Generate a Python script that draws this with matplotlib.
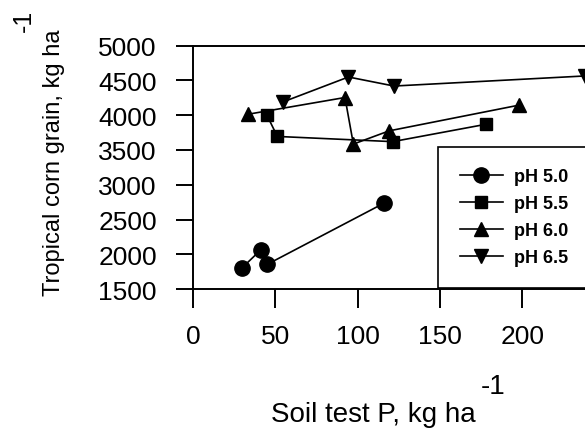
import matplotlib.pyplot as plt

plt.rcParams['font.family'] = ['Liberation Sans', 'DejaVu Sans']

# 토양 P 검정값 (kg/ha) 과 옥수수 수량 (kg/ha)
ph50_p = [29.6, 41.0, 45.1, 116.0]
ph50_yield = [1800, 2060, 1855, 2735]

ph55_p = [44.8, 51.2, 121.3, 178.0]
ph55_yield = [4005, 3695, 3620, 3870]

ph60_p = [33.6, 92.3, 97.4, 119.1, 198.0]
ph60_yield = [4015, 4255, 3585, 3775, 4145]

ph65_p = [54.5, 94.4, 122.1, 238.0]
ph65_yield = [4190, 4550, 4420, 4565]

series = [
    ("pH 5.0", ph50_p, ph50_yield, 'o', 11),
    ("pH 5.5", ph55_p, ph55_yield, 's', 9),
    ("pH 6.0", ph60_p, ph60_yield, '^', 10.5),
    ("pH 6.5", ph65_p, ph65_yield, 'v', 10.5),
]

fig = plt.figure(figsize=(5.85, 4.35), dpi=100)
# 오른쪽은 원본처럼 그림 밖으로 잘리게 둠
ax = fig.add_axes([0.330, 0.3333, 0.7034, 0.5593])

for label, xs, ys, marker, ms in series:
    ax.plot(xs, ys, color='black', lw=1.2, marker=marker, markersize=ms,
            markerfacecolor='black', markeredgecolor='black', label=label)

ax.set_xlim(0, 250)
ax.set_ylim(1500, 5000)
ax.set_xticks([0, 50, 100, 150, 200])
ax.set_yticks(range(1500, 5001, 500))

for side in ['left', 'top', 'bottom']:
    ax.spines[side].set_linewidth(1.4)
ax.spines['right'].set_visible(False)

ax.tick_params(axis='both', direction='out', width=1.4, labelsize=19)
ax.tick_params(axis='y', length=12, pad=14)
ax.tick_params(axis='x', length=14, pad=11)

# 축 제목 (단위 지수는 따로)
fig.text(0.093, 0.627, 'Tropical corn grain, kg ha', rotation=90,
         ha='center', va='center', fontsize=17)
fig.text(0.041, 0.952, '-1', rotation=90, ha='center', va='center', fontsize=18)
fig.text(0.638, 0.046, 'Soil test P, kg ha', ha='center', va='center', fontsize=20)
fig.text(0.843, 0.110, '-1', ha='center', va='center', fontsize=20)

leg = ax.legend(loc='upper left', mode='expand',
                bbox_to_anchor=(438 / 585, 1 - 152 / 435, 200 / 585, 0.01),
                bbox_transform=fig.transFigure, borderaxespad=0,
                prop={'weight': 'bold', 'size': 13}, fancybox=False,
                framealpha=1, edgecolor='black', borderpad=1.2,
                labelspacing=0.55, handlelength=2.4, handletextpad=0.6)
leg.get_frame().set_linewidth(1.2)

fig.savefig('out.png', dpi=100)
